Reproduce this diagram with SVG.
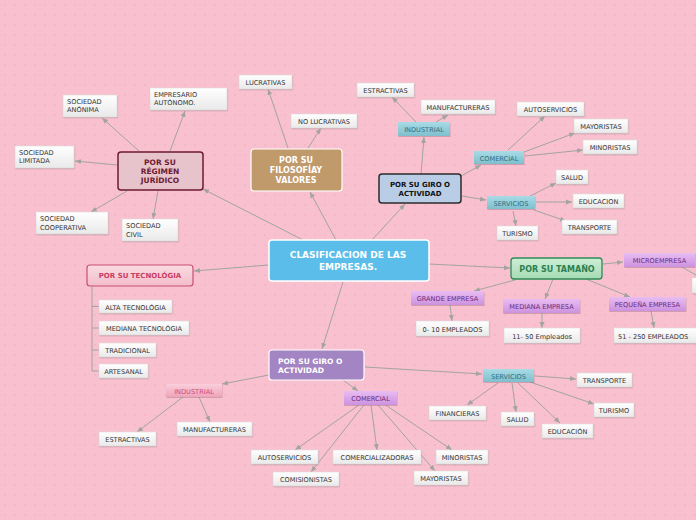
<svg xmlns="http://www.w3.org/2000/svg" width="696" height="520" viewBox="0 0 696 520">
<defs>
<pattern id="dots" width="10" height="10" patternUnits="userSpaceOnUse">
<rect width="10" height="10" fill="#f9c1cf"/>
<circle cx="5" cy="5" r="0.8" fill="#ecaabb"/>
</pattern>
<linearGradient id="gw" x1="0" y1="0" x2="0" y2="1"><stop offset="0" stop-color="#ffffff"/><stop offset="1" stop-color="#e9e9e9"/></linearGradient>
<linearGradient id="gteal" x1="0" y1="0" x2="0" y2="1"><stop offset="0" stop-color="#a8dbe6"/><stop offset="1" stop-color="#7fbfcd"/></linearGradient>
<linearGradient id="gpurp" x1="0" y1="0" x2="0" y2="1"><stop offset="0" stop-color="#e8bdf2"/><stop offset="1" stop-color="#cd92df"/></linearGradient>
<linearGradient id="gpink" x1="0" y1="0" x2="0" y2="1"><stop offset="0" stop-color="#f9cfdb"/><stop offset="1" stop-color="#eea4bb"/></linearGradient>
<linearGradient id="ggreen" x1="0" y1="0" x2="0" y2="1"><stop offset="0" stop-color="#cdeed6"/><stop offset="1" stop-color="#a6dbb5"/></linearGradient>
<linearGradient id="gtec" x1="0" y1="0" x2="0" y2="1"><stop offset="0" stop-color="#fadbe3"/><stop offset="1" stop-color="#f3bccb"/></linearGradient>
<filter id="sh" x="-10%" y="-20%" width="130%" height="160%"><feDropShadow dx="0.5" dy="1" stdDeviation="0.6" flood-color="#a07080" flood-opacity="0.45"/></filter>
<marker id="ah" markerUnits="userSpaceOnUse" markerWidth="7" markerHeight="6" refX="6" refY="3" orient="auto"><path d="M0,0.5 L6,3 L0,5.5 Z" fill="#a3a3a3"/></marker>
<style>
.c{stroke:#a3a3a3;stroke-width:1;fill:none;marker-end:url(#ah)}
.b{stroke:#a3a3a3;stroke-width:1;fill:none}
.leaf rect{fill:url(#gw);stroke:#d9d9d9;stroke-width:0.6;filter:url(#sh)}
.leaf text{font-family:"DejaVu Sans",Verdana,sans-serif;font-size:6.6px;fill:#333}
.ct{text-anchor:middle}
.teal rect{fill:url(#gteal);filter:url(#sh)}
.teal text{font-family:"DejaVu Sans",Verdana,sans-serif;font-size:6.6px;fill:#2f6f80;text-anchor:middle}
.purp rect{fill:url(#gpurp);filter:url(#sh)}
.purp text{font-family:"DejaVu Sans",Verdana,sans-serif;font-size:6.6px;fill:#6b2a7c;text-anchor:middle}
.pink rect{fill:url(#gpink);filter:url(#sh)}
.pink text{font-family:"DejaVu Sans",Verdana,sans-serif;font-size:6.6px;fill:#cf4a7b;text-anchor:middle}
.main text{font-family:"DejaVu Sans",Verdana,sans-serif;font-weight:bold}
</style>
</defs>
<rect width="696" height="520" fill="url(#dots)"/>

<g id="connectors">
<!-- central -->
<line class="c" x1="303" y1="240" x2="203" y2="189"/>
<line class="c" x1="336" y1="240" x2="310" y2="192"/>
<line class="c" x1="372" y1="240" x2="405" y2="204"/>
<line class="c" x1="429" y1="264" x2="510" y2="268"/>
<line class="c" x1="269" y1="265" x2="194" y2="271"/>
<line class="c" x1="343" y1="282" x2="322" y2="349"/>
<!-- regimen -->
<line class="c" x1="139" y1="151" x2="102" y2="118"/>
<line class="c" x1="170" y1="151" x2="185" y2="111"/>
<line class="c" x1="117" y1="165" x2="75" y2="161"/>
<line class="c" x1="127" y1="191" x2="91" y2="212"/>
<line class="c" x1="158" y1="191" x2="153" y2="219"/>
<!-- filosofia -->
<line class="c" x1="288" y1="148" x2="268" y2="89"/>
<line class="c" x1="308" y1="148" x2="321" y2="128"/>
<!-- giro top -->
<line class="c" x1="421" y1="174" x2="424" y2="137"/>
<line class="c" x1="416" y1="122" x2="392" y2="97"/>
<line class="c" x1="436" y1="122" x2="448" y2="115"/>
<line class="c" x1="461" y1="176" x2="481" y2="165"/>
<line class="c" x1="508" y1="150" x2="545" y2="116"/>
<line class="c" x1="524" y1="152" x2="575" y2="133"/>
<line class="c" x1="525" y1="156" x2="583" y2="150"/>
<line class="c" x1="462" y1="196" x2="486" y2="200"/>
<line class="c" x1="530" y1="196" x2="556" y2="183"/>
<line class="c" x1="536" y1="202" x2="572" y2="202"/>
<line class="c" x1="534" y1="210" x2="566" y2="221"/>
<line class="c" x1="513" y1="211" x2="516" y2="226"/>
<!-- tamaño -->
<line class="c" x1="603" y1="264" x2="623" y2="262"/>
<line class="b" x1="680" y1="266" x2="696" y2="275"/>
<line class="c" x1="515" y1="280" x2="474" y2="291"/>
<line class="c" x1="553" y1="279" x2="545" y2="299"/>
<line class="c" x1="586" y1="279" x2="630" y2="297"/>
<line class="c" x1="450" y1="305" x2="452" y2="321"/>
<line class="c" x1="542" y1="313" x2="542" y2="328"/>
<line class="c" x1="651" y1="311" x2="654" y2="328"/>
<!-- tecnologia -->
<path class="b" d="M92,286 V371 M92,306.5 H99 M92,328 H99 M92,350 H99 M92,371 H99"/>
<!-- giro bottom -->
<line class="c" x1="269" y1="375" x2="222" y2="384"/>
<line class="c" x1="183" y1="397" x2="137" y2="432"/>
<line class="c" x1="199" y1="397" x2="210" y2="422"/>
<line class="c" x1="343" y1="380" x2="358" y2="391"/>
<line class="c" x1="365" y1="367" x2="482" y2="374"/>
<line class="c" x1="359" y1="405" x2="295" y2="450"/>
<line class="c" x1="364" y1="405" x2="311" y2="472"/>
<line class="c" x1="371" y1="405" x2="377" y2="450"/>
<line class="c" x1="378" y1="405" x2="435" y2="471"/>
<line class="c" x1="384" y1="404" x2="452" y2="450"/>
<line class="c" x1="535" y1="376" x2="576" y2="379"/>
<line class="c" x1="498" y1="383" x2="467" y2="405"/>
<line class="c" x1="512" y1="383" x2="516" y2="412"/>
<line class="c" x1="518" y1="383" x2="560" y2="423"/>
<line class="c" x1="530" y1="382" x2="594" y2="404"/>
</g>

<!-- main nodes -->
<g id="central" class="main">
<rect x="269" y="240" width="160" height="41" rx="3" fill="#5bbde9" stroke="#ffffff" stroke-width="1.5"/>
<text x="348" y="258" font-size="9" fill="#fff" text-anchor="middle">CLASIFICACION DE LAS</text>
<text x="348" y="270" font-size="9" fill="#fff" text-anchor="middle">EMPRESAS.</text>
</g>
<g id="regimen" class="main">
<rect x="118" y="152" width="85" height="38" rx="3" fill="#e7c4cc" stroke="#6e1a30" stroke-width="1.5"/>
<text x="160" y="165" font-size="7.5" fill="#6e1a30" text-anchor="middle">POR SU</text>
<text x="160" y="174" font-size="7.5" fill="#6e1a30" text-anchor="middle">RÉGIMEN</text>
<text x="160" y="183" font-size="7.5" fill="#6e1a30" text-anchor="middle">JURÍDICO</text>
</g>
<g id="filosofia" class="main">
<rect x="251" y="149" width="91" height="42" rx="3" fill="#c09a6b" stroke="#ffffff" stroke-width="1.2"/>
<text x="296" y="163" font-size="8" fill="#fff" text-anchor="middle">POR SU</text>
<text x="296" y="173" font-size="8" fill="#fff" text-anchor="middle">FILOSOFÍAY</text>
<text x="296" y="183" font-size="8" fill="#fff" text-anchor="middle">VALORES</text>
</g>
<g id="giro1" class="main">
<rect x="379" y="174" width="82" height="29" rx="3" fill="#b9cde6" stroke="#2b2b2b" stroke-width="1.5"/>
<text x="420" y="187" font-size="7" fill="#111" text-anchor="middle">POR SU GIRO O</text>
<text x="420" y="196" font-size="7" fill="#111" text-anchor="middle">ACTIVIDAD</text>
</g>
<g id="tamano" class="main">
<rect x="511" y="258" width="91" height="21" rx="3" fill="url(#ggreen)" stroke="#2e8b57" stroke-width="1.3"/>
<text x="557" y="272" font-size="8" fill="#2a8050" text-anchor="middle">POR SU TAMAÑO</text>
</g>
<g id="tecnologia" class="main">
<rect x="87" y="265" width="106" height="21" rx="3" fill="url(#gtec)" stroke="#c94f75" stroke-width="1.2"/>
<text x="140" y="278" font-size="7" fill="#c83d64" text-anchor="middle">POR SU TECNOLÓGIA</text>
</g>
<g id="giro2" class="main">
<rect x="269" y="350" width="95" height="30" rx="3" fill="#a385c3" stroke="#ffffff" stroke-width="1.2"/>
<text x="278" y="364" font-size="7.5" fill="#fff">POR SU GIRO O</text>
<text x="278" y="373" font-size="7.5" fill="#fff">ACTIVIDAD</text>
</g>

<!-- colored mid nodes -->
<g id="industrial1" class="teal"><rect x="398" y="122" width="52" height="14"/><text x="424" y="132">INDUSTRIAL</text></g>
<g id="comercial1" class="teal"><rect x="474" y="151" width="50" height="13"/><text x="499" y="160.5">COMERCIAL</text></g>
<g id="servicios1" class="teal"><rect x="487" y="196" width="48" height="13"/><text x="511" y="205.5">SERVICIOS</text></g>
<g id="microempresa" class="purp"><rect x="624" y="253" width="71" height="14"/><text x="659.5" y="263">MICROEMPRESA</text></g>
<g id="grande" class="purp"><rect x="411" y="291" width="73" height="14"/><text x="447.5" y="301">GRANDE EMPRESA</text></g>
<g id="mediana" class="purp"><rect x="503" y="299" width="77" height="14"/><text x="541.5" y="309">MEDIANA EMPRESA</text></g>
<g id="pequena" class="purp"><rect x="609" y="297" width="77" height="14"/><text x="647.5" y="307">PEQUEÑA EMPRESA</text></g>
<g id="industrial2" class="pink"><rect x="166" y="384" width="56" height="13"/><text x="194" y="393.5">INDUSTRIAL</text></g>
<g id="comercial2" class="purp"><rect x="344" y="391" width="53" height="14"/><text x="370.5" y="401">COMERCIAL</text></g>
<g id="servicios2" class="teal"><rect x="483" y="369" width="51" height="13"/><text x="508.5" y="378.5">SERVICIOS</text></g>

<!-- leaves: regimen -->
<g id="anonima" class="leaf"><rect x="63" y="95" width="54" height="22"/><text x="67" y="104">SOCIEDAD</text><text x="67" y="112">ANÓNIMA</text></g>
<g id="autonomo" class="leaf"><rect x="150" y="88" width="77" height="22"/><text x="154" y="97">EMPRESARIO</text><text x="154" y="105">AUTÓNOMO.</text></g>
<g id="limitada" class="leaf"><rect x="15" y="146" width="59" height="22"/><text x="19" y="155">SOCIEDAD</text><text x="19" y="163">LIMITADA</text></g>
<g id="cooperativa" class="leaf"><rect x="36" y="212" width="72" height="22"/><text x="40" y="221">SOCIEDAD</text><text x="40" y="230">COOPERATIVA</text></g>
<g id="civil" class="leaf"><rect x="122" y="219" width="56" height="22"/><text x="126" y="228">SOCIEDAD</text><text x="126" y="237">CIVIL</text></g>
<!-- filosofia -->
<g id="lucrativas" class="leaf"><rect x="239" y="75" width="53" height="14"/><text class="ct" x="265.5" y="85">LUCRATIVAS</text></g>
<g id="nolucrativas" class="leaf"><rect x="291" y="114" width="66" height="14"/><text class="ct" x="324" y="124">NO LUCRATIVAS</text></g>
<!-- giro top -->
<g id="estractivas1" class="leaf"><rect x="357" y="83" width="57" height="14"/><text class="ct" x="385.5" y="93">ESTRACTIVAS</text></g>
<g id="manufactureras1" class="leaf"><rect x="421" y="100" width="74" height="14"/><text class="ct" x="458" y="110">MANUFACTURERAS</text></g>
<g id="autoservicios1" class="leaf"><rect x="517" y="102" width="67" height="14"/><text class="ct" x="550.5" y="112">AUTOSERVICIOS</text></g>
<g id="mayoristas1" class="leaf"><rect x="574" y="119" width="54" height="14"/><text class="ct" x="601" y="129">MAYORISTAS</text></g>
<g id="minoristas1" class="leaf"><rect x="583" y="140" width="54" height="14"/><text class="ct" x="610" y="150">MINORISTAS</text></g>
<g id="salud1" class="leaf"><rect x="556" y="170" width="32" height="14"/><text class="ct" x="572" y="180">SALUD</text></g>
<g id="educacion1" class="leaf"><rect x="573" y="194" width="51" height="14"/><text class="ct" x="598.5" y="204">EDUCACION</text></g>
<g id="transporte1" class="leaf"><rect x="562" y="220" width="55" height="14"/><text class="ct" x="589.5" y="230">TRANSPORTE</text></g>
<g id="turismo1" class="leaf"><rect x="497" y="226" width="41" height="14"/><text class="ct" x="517.5" y="236">TURISMO</text></g>
<!-- tamaño -->
<g id="e0_10" class="leaf"><rect x="416" y="321" width="73" height="15"/><text class="ct" x="452.5" y="331.5">0- 10 EMPLEADOS</text></g>
<g id="e11_50" class="leaf"><rect x="504" y="328" width="76" height="15"/><text class="ct" x="542" y="338.5">11- 50 Empleados</text></g>
<g id="e51_250" class="leaf"><rect x="614" y="328" width="86" height="15"/><text x="618" y="338.5">51 - 250 EMPLEADOS</text></g>
<g id="micro_child" class="leaf"><rect x="692" y="278" width="40" height="15"/></g>
<!-- tecnologia -->
<g id="alta" class="leaf"><rect x="99" y="300" width="73" height="13"/><text class="ct" x="135.5" y="309.5">ALTA TECNOLÓGIA</text></g>
<g id="medianatec" class="leaf"><rect x="99" y="321" width="90" height="14"/><text class="ct" x="144" y="331">MEDIANA TECNOLÓGIA</text></g>
<g id="tradicional" class="leaf"><rect x="99" y="343" width="57" height="14"/><text class="ct" x="127.5" y="353">TRADICIONAL</text></g>
<g id="artesanal" class="leaf"><rect x="99" y="364" width="49" height="14"/><text class="ct" x="123.5" y="374">ARTESANAL</text></g>
<!-- giro bottom -->
<g id="estractivas2" class="leaf"><rect x="99" y="432" width="57" height="14"/><text class="ct" x="127.5" y="442">ESTRACTIVAS</text></g>
<g id="manufactureras2" class="leaf"><rect x="177" y="422" width="75" height="14"/><text class="ct" x="214.5" y="432">MANUFACTURERAS</text></g>
<g id="autoservicios2" class="leaf"><rect x="251" y="450" width="67" height="14"/><text class="ct" x="284.5" y="460">AUTOSERVICIOS</text></g>
<g id="comisionistas" class="leaf"><rect x="273" y="472" width="66" height="14"/><text class="ct" x="306" y="482">COMISIONISTAS</text></g>
<g id="comercializadoras" class="leaf"><rect x="333" y="450" width="88" height="14"/><text class="ct" x="377" y="460">COMERCIALIZADORAS</text></g>
<g id="mayoristas2" class="leaf"><rect x="414" y="471" width="54" height="14"/><text class="ct" x="441" y="481">MAYORISTAS</text></g>
<g id="minoristas2" class="leaf"><rect x="436" y="450" width="52" height="14"/><text class="ct" x="462" y="460">MINORISTAS</text></g>
<g id="transporte2" class="leaf"><rect x="577" y="373" width="55" height="14"/><text class="ct" x="604.5" y="383">TRANSPORTE</text></g>
<g id="financieras" class="leaf"><rect x="429" y="406" width="57" height="14"/><text class="ct" x="457.5" y="416">FINANCIERAS</text></g>
<g id="salud2" class="leaf"><rect x="501" y="412" width="33" height="14"/><text class="ct" x="517.5" y="422">SALUD</text></g>
<g id="educacion2" class="leaf"><rect x="542" y="424" width="51" height="14"/><text class="ct" x="567.5" y="434">EDUCACIÓN</text></g>
<g id="turismo2" class="leaf"><rect x="594" y="403" width="40" height="14"/><text class="ct" x="614" y="413">TURISMO</text></g>
</svg>
